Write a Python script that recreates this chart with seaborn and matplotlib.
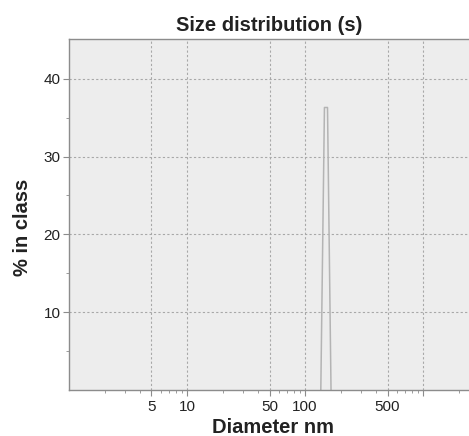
import seaborn as sns
import matplotlib.pyplot as plt
import pandas as pd
from matplotlib.ticker import FixedLocator, NullFormatter, LogLocator

# Size distribution data
diameter_nm = [136, 146, 155, 166]
percent_in_class = [0.0, 36.3, 36.3, 0.0]

x_ticks = [5, 10, 50, 100, 500, 1000]
x_tick_labels = ['5', '10', '50', '100', '500', '']
y_ticks = [10, 20, 30, 40]

df = pd.DataFrame({'diameter': diameter_nm, 'pct': percent_in_class})

sns.set_style('white')
plt.rcParams['font.family'] = ['Liberation Sans', 'DejaVu Sans']

fig = plt.figure(figsize=(4.69, 4.36), dpi=100)
ax = fig.add_axes([69 / 469, 46 / 436, 400 / 469, 351 / 436])
ax.set_facecolor('#ededed')

sns.lineplot(data=df, x='diameter', y='pct', ax=ax,
             color='#b4b4b4', linewidth=1.1, estimator=None, sort=False)

ax.set_xscale('log')
ax.set_xlim(1, 2450)
ax.set_ylim(0, 45.1)

ax.xaxis.set_major_locator(FixedLocator(x_ticks))
ax.set_xticklabels(x_tick_labels)
ax.xaxis.set_minor_locator(LogLocator(base=10, subs=range(2, 10)))
ax.xaxis.set_minor_formatter(NullFormatter())
ax.yaxis.set_major_locator(FixedLocator(y_ticks))
ax.yaxis.set_minor_locator(FixedLocator([5, 15, 25, 35]))

ax.grid(True, which='major', linestyle=(0, (2, 2)), color='#a8a8a8', linewidth=0.8)

for side in ['left', 'bottom', 'top']:
    ax.spines[side].set_color('#8c8c8c')
    ax.spines[side].set_linewidth(1.0)
ax.spines['right'].set_visible(False)

ax.tick_params(axis='both', which='major', direction='out', length=4,
               color='#8c8c8c', labelsize=11, labelcolor='#222222', pad=2)
ax.tick_params(axis='both', which='minor', direction='out', length=2,
               color='#8c8c8c')
ax.tick_params(axis='x', which='both', bottom=True, top=False)
ax.tick_params(axis='y', which='both', left=True, right=False)
ax.tick_params(axis='x', which='major', pad=3)

ax.set_title('Size distribution (s)', fontsize=14.5, fontweight='bold',
             color='#222222', pad=6)
ax.set_xlabel('Diameter nm', fontsize=14.5, fontweight='bold',
              color='#222222')
ax.set_ylabel('% in class', fontsize=14.5, fontweight='bold',
              color='#222222')
ax.xaxis.set_label_coords(0.51, -0.107, transform=ax.transAxes)
ax.yaxis.set_label_coords(-0.115, 0.464, transform=ax.transAxes)
ax.xaxis.label.set_va('center')
ax.yaxis.label.set_va('center')

plt.savefig('out.png', dpi=100)
plt.close()
